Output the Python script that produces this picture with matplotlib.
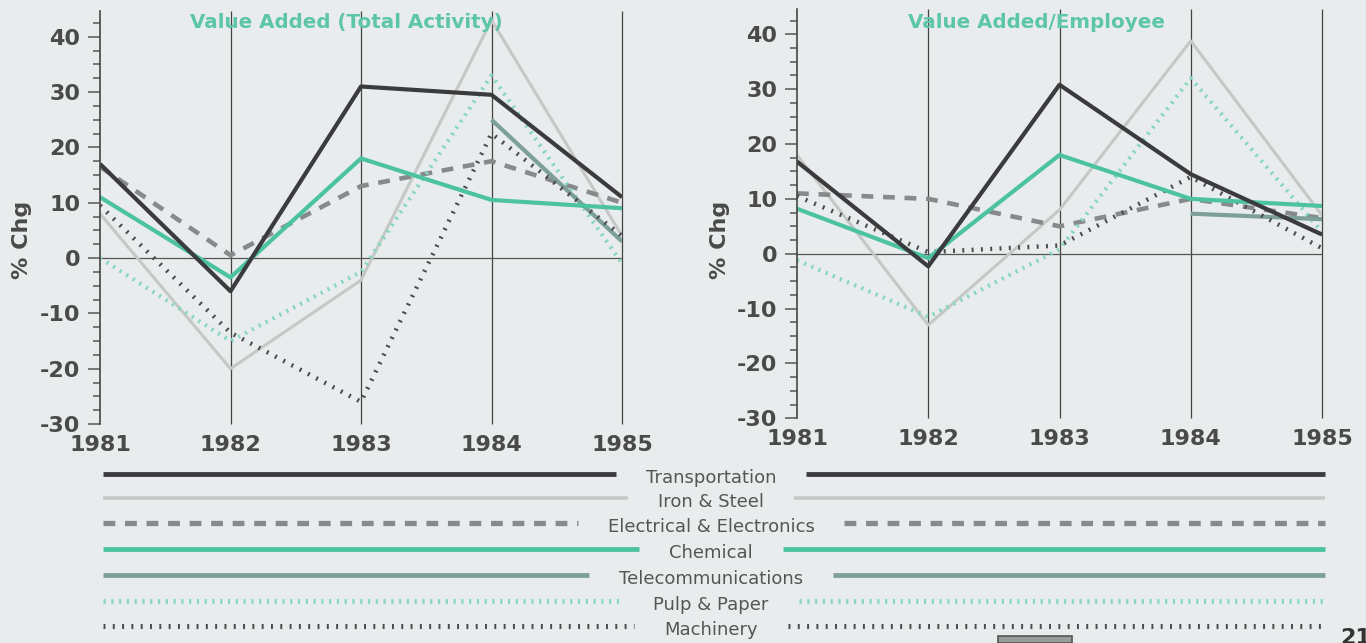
import matplotlib
matplotlib.use('Agg')
import matplotlib.pyplot as plt
from matplotlib.lines import Line2D
from matplotlib.patches import Rectangle
from matplotlib.ticker import MultipleLocator, FixedLocator
import numpy as np

# data (% change)
years = [1981, 1982, 1983, 1984, 1985]
series_names = ['Transportation', 'Iron & Steel', 'Electrical & Electronics', 'Chemical',
                'Telecommunications', 'Pulp & Paper', 'Machinery']

transport_total = [17, -6, 31, 29.5, 11]
iron_total = [8, -20, -4, 43, 4]
electrical_total = [16.5, 0.5, 13, 17.5, 10]
chemical_total = [11, -3.5, 18, 10.5, 9]
telecom_total = [np.nan, np.nan, np.nan, 25, 3]
pulp_total = [0, -15, -2.5, 33, -1]
machinery_total = [9.5, -13.5, -26, 22.5, 4]

transport_emp = [16.8, -2.3, 30.8, 14.5, 3.5]
iron_emp = [18, -13, 8, 38.8, 7]
electrical_emp = [11, 10, 5, 10, 6.5]
chemical_emp = [8.2, -0.8, 18, 10, 8.7]
telecom_emp = [np.nan, np.nan, np.nan, 7.3, 6.3]
pulp_emp = [-1.2, -11.5, 0.8, 32, 4]
machinery_emp = [10.5, 0.3, 1.5, 14, 1]

titles = ['Value Added (Total Activity)', 'Value Added/Employee']

plt.rcParams['lines.scale_dashes'] = False
plt.rcParams['axes.unicode_minus'] = False

bg = '#e9ecec'
txt = '#4a4a4a'
# style per series: colour, width, dashes (None = solid), zorder
styles = {
    'Transportation': ('#3b3b3d', 3.0, None, 6),
    'Iron & Steel': ('#c6c8c8', 2.2, None, 2),
    'Electrical & Electronics': ('#88898b', 3.3, (8.5, 7), 3),
    'Chemical': ('#4cc3a0', 3.0, None, 5),
    'Telecommunications': ('#7c9f98', 3.0, None, 4),
    'Pulp & Paper': ('#86d6c0', 3.0, (1.6, 4.0), 3),
    'Machinery': ('#4a4a4c', 3.2, (1.4, 5.3), 4),
}

W, H = 1366, 643
fig = plt.figure(figsize=(W / 100, H / 100), dpi=100, facecolor=bg)


def px_box(x0, x1, y_top, y_bot):
    return [x0 / W, 1 - y_bot / H, (x1 - x0) / W, (y_bot - y_top) / H]


ax1 = fig.add_axes(px_box(100, 622, 10.7, 424))
ax2 = fig.add_axes(px_box(797, 1322, 8.5, 418.3))

panels = [
    (ax1, [transport_total, iron_total, electrical_total, chemical_total,
           telecom_total, pulp_total, machinery_total], titles[0], 22, 346),
    (ax2, [transport_emp, iron_emp, electrical_emp, chemical_emp,
           telecom_emp, pulp_emp, machinery_emp], titles[1], 720, 1036),
]

for ax, data, title, ylab_x, title_x in panels:
    ax.set_facecolor('none')
    ax.set_xlim(1981, 1985)
    ax.set_ylim(-30, 44.7)
    for s in ['top', 'right', 'bottom']:
        ax.spines[s].set_visible(False)
    ax.spines['left'].set_color('#444444')
    ax.spines['left'].set_linewidth(1.2)
    ax.spines['left'].set_zorder(8)

    # year gridlines and zero line
    ax.vlines(years[1:], -30, 44.7, color='#444444', lw=0.9, zorder=1, clip_on=False)
    ax.axhline(0, color='#555555', lw=0.9, zorder=1)

    for name, vals in zip(series_names, data):
        c, lw, dash, z = styles[name]
        ln, = ax.plot(years, vals, color=c, lw=lw, zorder=z,
                      solid_capstyle='butt', dash_capstyle='butt')
        if dash:
            ln.set_dashes(dash)

    ax.yaxis.set_major_locator(FixedLocator([-30, -20, -10, 0, 10, 20, 30, 40]))
    ax.yaxis.set_minor_locator(MultipleLocator(2.5))
    ax.tick_params(axis='y', which='major', length=9, width=1.1, color='#555555',
                   pad=5, labelsize=16, labelcolor=txt)
    ax.tick_params(axis='y', which='minor', length=5, width=1.1, color='#555555')
    for lab in ax.get_yticklabels():
        lab.set_fontweight('bold')

    ax.set_xticks(years)
    ax.tick_params(axis='x', length=0, pad=8, labelsize=16, labelcolor=txt)
    for lab in ax.get_xticklabels():
        lab.set_fontweight('bold')

    fig.text(title_x / W, 1 - 23 / H, title, ha='center', va='center',
             color='#5cc6a6', fontsize=14.3, fontweight='bold', zorder=0.5)

    fig.text(ylab_x / W, 1 - 240 / H, '% Chg', rotation=90, ha='center', va='center',
             fontsize=16, fontweight='bold', color=txt)

# legend: centred label with a line sample either side
row_y = [474, 498, 523, 549, 575, 601, 626]
label_x = 711
gap = 30
labels = []
for name, y in zip(series_names, row_y):
    t = fig.text(label_x / W, 1 - (y + 4) / H, name, ha='center', va='center',
                 fontsize=13, color='#555555')
    labels.append(t)

fig.canvas.draw()
renderer = fig.canvas.get_renderer()
for name, y, t in zip(series_names, row_y, labels):
    bb = t.get_window_extent(renderer)
    c, lw, dash, z = styles[name]
    lw_leg = lw * 1.15
    for xa, xb in [(103, bb.x0 - gap), (bb.x1 + gap, 1325)]:
        ln = Line2D([xa / W, xb / W], [1 - y / H, 1 - y / H], transform=fig.transFigure,
                    color=c, lw=lw_leg, solid_capstyle='butt', dash_capstyle='butt')
        if dash:
            ln.set_dashes(dash)
        fig.add_artist(ln)

# scan leftovers at the page foot
fig.add_artist(Rectangle((998 / W, 0), 74 / W, 7 / H, transform=fig.transFigure,
                         facecolor='#9a9c9c', edgecolor='#555555', lw=1.2))
fig.text(1340 / W, 1 - 628 / H, '21', ha='left', va='top', fontsize=16,
         fontweight='bold', color='#333333')

fig.savefig('out.png', dpi=100, facecolor=bg)
